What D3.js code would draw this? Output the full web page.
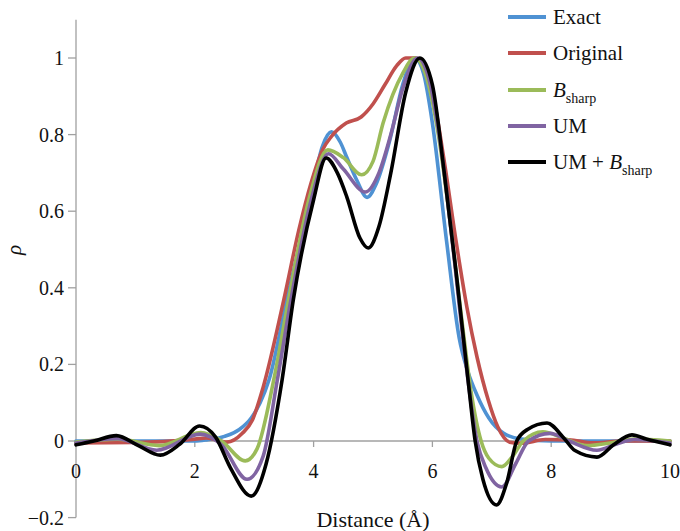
<!DOCTYPE html>
<html><head><meta charset="utf-8">
<script src="https://cdn.jsdelivr.net/npm/d3@7"></script>
</head>
<body style="margin:0">
<svg id="c" width="680" height="531"></svg>
<script>
// Data (x in Å, y = rho)
const exactX = [0, 2.0, 2.2, 2.5, 2.75, 2.95, 3.1, 3.25, 3.55, 3.94, 4.15, 4.3, 4.45, 4.56, 4.73, 4.9, 5.05, 5.29, 5.5, 5.7, 5.85, 6.0, 6.24, 6.45, 6.6, 6.75, 6.95, 7.2, 7.5, 8.0, 10];
const exactY = [0, 0, 0.003, 0.012, 0.03, 0.06, 0.1, 0.16, 0.37, 0.63, 0.77, 0.807, 0.78, 0.74, 0.68, 0.636, 0.67, 0.79, 0.93, 1.0, 0.96, 0.83, 0.52, 0.27, 0.18, 0.12, 0.06, 0.02, 0.005, 0, 0];

const originalX = [0, 1.0, 2.0, 2.2, 2.54, 2.8, 2.97, 3.15, 3.5, 3.75, 3.95, 4.15, 4.3, 4.55, 4.8, 5.0, 5.2, 5.4, 5.55, 5.72, 5.85, 6.0, 6.2, 6.4, 6.58, 6.75, 6.94, 7.1, 7.3, 7.5, 7.9, 8.3, 8.7, 9.2, 10];
const originalY = [-0.005, -0.004, 0.005, 0.008, -0.003, 0.02, 0.055, 0.14, 0.37, 0.55, 0.67, 0.76, 0.795, 0.83, 0.846, 0.88, 0.93, 0.98, 1.0, 1.0, 0.98, 0.91, 0.73, 0.52, 0.35, 0.22, 0.107, 0.037, -0.003, -0.006, 0.004, 0.003, -0.005, 0, 0];

const bsharpX = [0, 0.7, 1.4, 2.1, 2.45, 2.85, 3.05, 3.33, 3.58, 3.92, 4.24, 4.5, 4.81, 5.0, 5.17, 5.5, 5.7, 5.9, 6.1, 6.3, 6.5, 6.65, 6.82, 6.95, 7.17, 7.35, 7.53, 7.86, 8.2, 8.6, 9.0, 9.4, 10];
const bsharpY = [-0.003, 0.005, -0.012, 0.022, 0.0, -0.052, -0.02, 0.16, 0.37, 0.63, 0.76, 0.74, 0.695, 0.73, 0.83, 0.96, 1.0, 0.95, 0.8, 0.57, 0.31, 0.13, 0.0, -0.045, -0.067, -0.04, 0.0, 0.024, 0.008, -0.012, -0.005, 0.005, 0];

const umX = [0, 0.7, 1.36, 2.09, 2.45, 2.88, 3.15, 3.39, 3.62, 3.96, 4.25, 4.5, 4.87, 5.1, 5.3, 5.5, 5.75, 5.95, 6.15, 6.35, 6.55, 6.75, 6.9, 7.17, 7.4, 7.62, 7.98, 8.3, 8.77, 9.1, 9.4, 10];
const umY = [-0.005, 0.006, -0.024, 0.018, -0.01, -0.1, -0.04, 0.16, 0.37, 0.63, 0.75, 0.71, 0.65, 0.7, 0.8, 0.92, 1.0, 0.94, 0.76, 0.5, 0.22, 0.0, -0.07, -0.12, -0.06, 0.0, 0.02, 0.0, -0.024, -0.008, 0.004, -0.005];

const umBsharpX = [0, 0.3, 0.68, 1.05, 1.42, 1.75, 2.08, 2.35, 2.6, 2.95, 3.2, 3.47, 3.66, 4.0, 4.21, 4.4, 4.56, 4.78, 4.92, 5.1, 5.3, 5.55, 5.79, 6.0, 6.2, 6.4, 6.6, 6.72, 6.85, 7.08, 7.25, 7.42, 7.6, 7.93, 8.2, 8.4, 8.77, 9.05, 9.36, 9.6, 10];
const umBsharpY = [-0.01, 0.0, 0.014, -0.012, -0.037, -0.008, 0.039, 0.01, -0.07, -0.144, -0.06, 0.16, 0.37, 0.63, 0.739, 0.70, 0.637, 0.53, 0.504, 0.56, 0.70, 0.91, 1.0, 0.93, 0.70, 0.44, 0.16, 0.0, -0.1, -0.167, -0.11, 0.0, 0.03, 0.047, 0.01, -0.025, -0.042, -0.01, 0.016, 0.005, -0.01];

const xTicks = [0, 2, 4, 6, 8, 10];
const yTicks = [-0.2, 0, 0.2, 0.4, 0.6, 0.8, 1];
const seriesNames = ["Exact", "Original", "Bsharp", "UM", "UM + Bsharp"];
const seriesColors = ["#4f92d3", "#c0504d", "#9bbb59", "#8064a2", "#000000"];

const series = [
  {name: seriesNames[0], xs: exactX, ys: exactY, color: seriesColors[0]},
  {name: seriesNames[1], xs: originalX, ys: originalY, color: seriesColors[1]},
  {name: seriesNames[2], xs: bsharpX, ys: bsharpY, color: seriesColors[2]},
  {name: seriesNames[3], xs: umX, ys: umY, color: seriesColors[3]},
  {name: seriesNames[4], xs: umBsharpX, ys: umBsharpY, color: seriesColors[4]}
];

const FONT = "'Liberation Serif'";
const svg = d3.select("#c");
const x = d3.scaleLinear().domain([0, 10]).range([76, 670]);
const y = d3.scaleLinear().domain([0, 1]).range([441, 58]);
const axisColor = "#a0a0a0";

// Y axis
svg.append("line").attr("x1", x(0)).attr("x2", x(0)).attr("y1", y(1.1)).attr("y2", y(-0.2))
  .attr("stroke", axisColor).attr("stroke-width", 1.3);
const yg = svg.append("g");
yTicks.forEach(t => {
  yg.append("line").attr("x1", x(0) - 8).attr("x2", x(0)).attr("y1", y(t)).attr("y2", y(t))
    .attr("stroke", axisColor).attr("stroke-width", 1.3);
  yg.append("text").attr("x", x(0) - 12).attr("y", y(t) + 7)
    .attr("text-anchor", "end").style("font-family", FONT).attr("font-size", 20).attr("fill", "#111")
    .text(t < 0 ? "\u2212" + Math.abs(t) : String(t));
});

// X axis at y = 0
svg.append("line").attr("x1", x(0)).attr("x2", x(10)).attr("y1", y(0)).attr("y2", y(0))
  .attr("stroke", axisColor).attr("stroke-width", 1.3);
const xg = svg.append("g");
xTicks.forEach(t => {
  xg.append("line").attr("x1", x(t)).attr("x2", x(t)).attr("y1", y(0)).attr("y2", y(0) + 6)
    .attr("stroke", axisColor).attr("stroke-width", 1.3);
  xg.append("text").attr("x", x(t)).attr("y", y(0) + 37)
    .attr("text-anchor", "middle").style("font-family", FONT).attr("font-size", 20).attr("fill", "#111").text(String(t));
});

// Axis titles
svg.append("text").attr("x", 373).attr("y", 527).attr("text-anchor", "middle")
  .style("font-family", FONT).attr("font-size", 22).attr("fill", "#111").text("Distance (\u00C5)");
svg.append("text").attr("transform", "translate(21,250) rotate(-90)")
  .attr("text-anchor", "middle").style("font-family", FONT).attr("font-size", 21).attr("font-style", "italic")
  .attr("fill", "#111").text("\u03C1");

// Lines
const line = d3.line().x(d => x(d[0])).y(d => y(d[1])).curve(d3.curveMonotoneX);
series.forEach(s => {
  const pts = s.xs.map((v, i) => [v, s.ys[i]]);
  svg.append("path").attr("d", line(pts)).attr("fill", "none")
    .attr("stroke", s.color).attr("stroke-width", 3.6)
    .attr("stroke-linejoin", "round").attr("stroke-linecap", "round");
});

// Legend
const legY = [17, 53, 90, 126, 162];
series.forEach((s, i) => {
  const g = svg.append("g");
  g.append("line").attr("x1", 508).attr("x2", 546).attr("y1", legY[i]).attr("y2", legY[i])
    .attr("stroke", s.color).attr("stroke-width", 4);
  const t = g.append("text").attr("x", 553).attr("y", legY[i] + 7)
    .style("font-family", FONT).attr("font-size", 21).attr("fill", "#111");
  if (s.name === "Bsharp") {
    t.append("tspan").style("font-style", "italic").text("B");
    t.append("tspan").attr("font-size", 14).attr("dy", 6).text("sharp");
  } else if (s.name === "UM + Bsharp") {
    t.append("tspan").text("UM + ");
    t.append("tspan").style("font-style", "italic").text("B");
    t.append("tspan").attr("font-size", 14).attr("dy", 6).text("sharp");
  } else {
    t.text(s.name);
  }
});
</script>
</body></html>
